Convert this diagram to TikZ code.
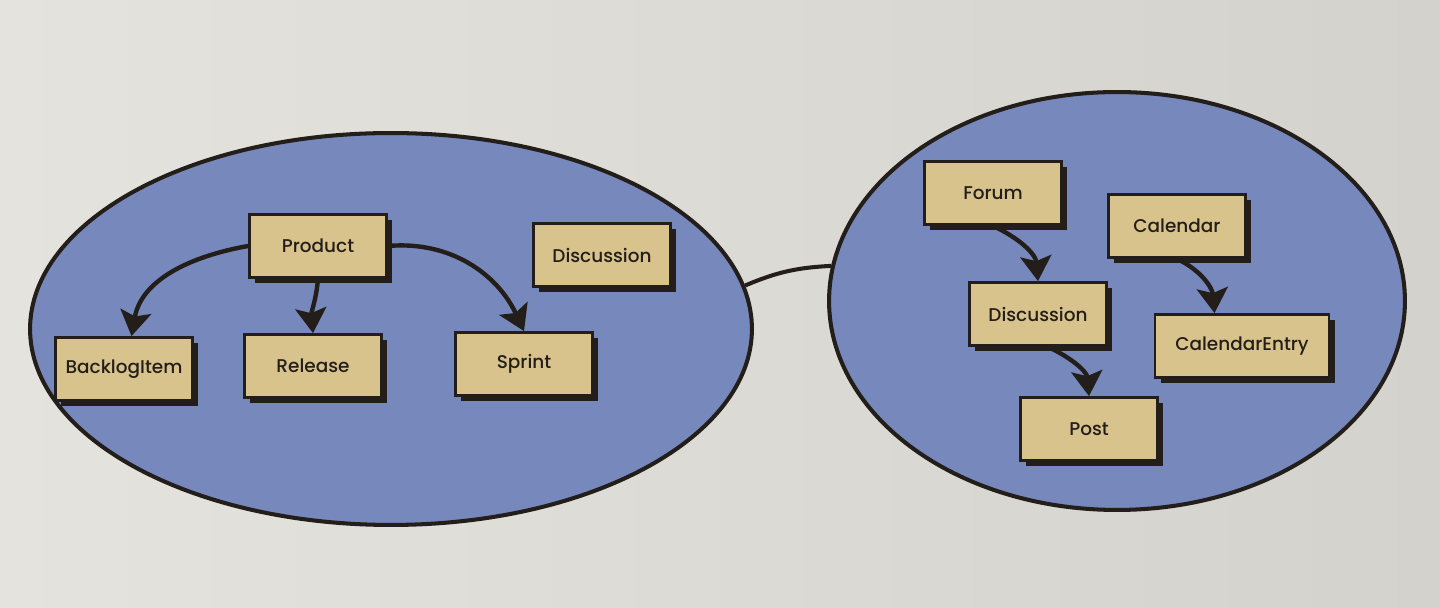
\documentclass[tikz,border=0pt]{standalone}
\usepackage{fontspec}
\setmainfont{Poppins}[BoldFont={Poppins Medium}]
\usepackage{xcolor}
\usetikzlibrary{arrows.meta,positioning,shapes.geometric,shadows}
\definecolor{ctxblue}{HTML}{7788BC}
\definecolor{boxtan}{HTML}{D8C38C}
\definecolor{paperlight}{HTML}{E4E3DE}
\definecolor{paperdark}{HTML}{D3D2CC}
\definecolor{inkdark}{HTML}{231E1A}

\begin{document}
\begin{tikzpicture}[
    x=0.02cm, y=0.02cm,
    context/.style={ellipse, draw=inkdark, line width=2.3pt, fill=ctxblue,
                    inner sep=0pt},
    entity/.style={draw=inkdark, line width=1.6pt, fill=boxtan,
                   minimum width=2.74cm, minimum height=1.26cm,
                   text=inkdark, font=\fontsize{10.5}{12}\selectfont\bfseries,
                   drop shadow={fill=inkdark, opacity=1,
                                shadow xshift=3.2pt, shadow yshift=-3.2pt}},
    assoc/.style={-{Stealth[length=0.5cm, width=0.62cm, inset=0.1cm]},
                  line width=2.5pt, inkdark},
    link/.style={line width=2.3pt, inkdark},
]
\useasboundingbox (0,0) rectangle (1440,608);
\fill[left color=paperlight, right color=paperdark] (0,0) rectangle (1440,608);

% Bounded contexts
\node[context, minimum width=14.44cm, minimum height=7.84cm] (agile) at (391,279) {};
\node[context, minimum width=11.52cm, minimum height=8.36cm] (collab) at (1117,307) {};
\draw[link] (agile.7) to[bend left=10] (collab.173);

% Agile side
\node[entity] (product) at (318,362) {Product};
\node[entity] (discA) at (602,353) {Discussion};
\node[entity] (backlog) at (124,239) {BacklogItem};
\node[entity] (release) at (313,242) {Release};
\node[entity] (sprint) at (524,244) {Sprint};

% Collaboration side
\node[entity] (forum) at (993,415) {Forum};
\node[entity] (calendar) at (1177,382) {Calendar};
\node[entity] (discB) at (1038,294) {Discussion};
\node[entity, minimum width=3.48cm] (calentry) at (1242,262) {CalendarEntry};
\node[entity] (post) at (1089,179) {Post};

% Associations
\draw[assoc] (product.west) to[out=190, in=80] ([xshift=0.15cm]backlog.north);
\draw[assoc] (product.south) to[out=-95, in=95] (release.north);
\draw[assoc] (product.east) to[out=5, in=115] (sprint.north);
\draw[assoc] (forum.south) to[out=-25, in=95] (discB.north);
\draw[assoc] (calendar.south) to[out=-25, in=95] ([xshift=-0.55cm]calentry.north);
\draw[assoc] ([xshift=0.2cm]discB.south) to[out=-25, in=95] (post.north);
\end{tikzpicture}
\end{document}
